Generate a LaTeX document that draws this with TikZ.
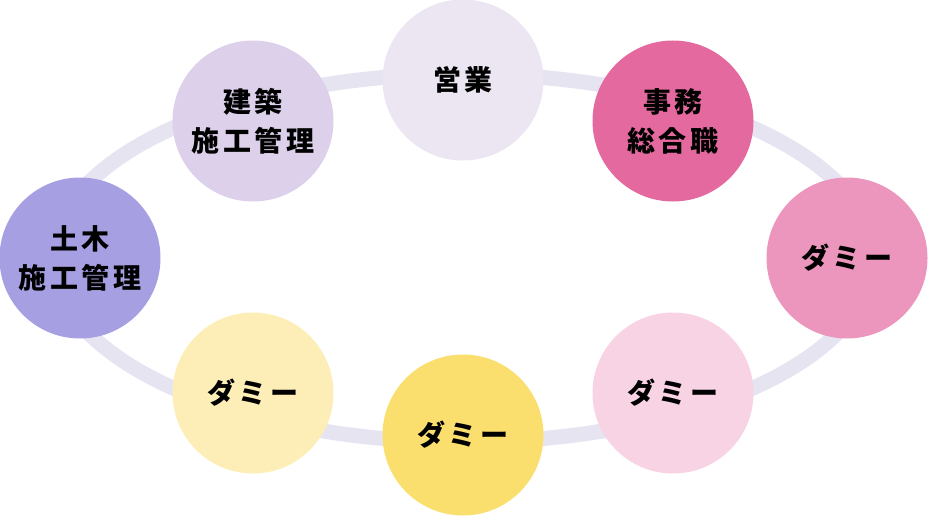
\documentclass[tikz,border=0pt]{standalone}
\usepackage{fontspec}
\newfontfamily\jpfont{Noto Sans CJK JP}[LetterSpace=12]
\usepackage{tikz}

\definecolor{ringcol}{HTML}{E7E4F2}
\definecolor{eigyo}{HTML}{ECE6F3}
\definecolor{kenchiku}{HTML}{DDD0EA}
\definecolor{doboku}{HTML}{A69FE2}
\definecolor{jimu}{HTML}{E4699E}
\definecolor{dummyA}{HTML}{EC95BD}
\definecolor{dummyB}{HTML}{F7D3E4}
\definecolor{dummyC}{HTML}{FBDF6E}
\definecolor{dummyD}{HTML}{FDEEB7}

\tikzset{
  job/.style={circle,minimum size=161pt,inner sep=0pt,align=center,
    font=\jpfont\bfseries\fontsize{28}{39}\selectfont},
  ring/.style={draw=ringcol,line width=15pt}
}

\begin{document}
\begin{tikzpicture}[x=1pt,y=-1pt]
    \useasboundingbox (0,0) rectangle (928,516);
    \coordinate (mid) at (463,258);
    \draw[ring] (mid) ellipse [x radius=410pt,y radius=184pt];
    \node[job,fill=eigyo] (eigyo) at (463,80) {営業};
    \node[job,fill=kenchiku] (kenchiku) at (253,121) {建築\\施工管理};
    \node[job,fill=doboku] (doboku) at (80,258) {土木\\施工管理};
    \node[job,fill=jimu] (jimu) at (673,121) {事務\\総合職};
    \node[job,fill=dummyA] (dummyA) at (847,258) {ダミー};
    \node[job,fill=dummyB] (dummyB) at (673,393) {ダミー};
    \node[job,fill=dummyC] (dummyC) at (463,435) {ダミー};
    \node[job,fill=dummyD] (dummyD) at (253,393) {ダミー};
\end{tikzpicture}
\end{document}
